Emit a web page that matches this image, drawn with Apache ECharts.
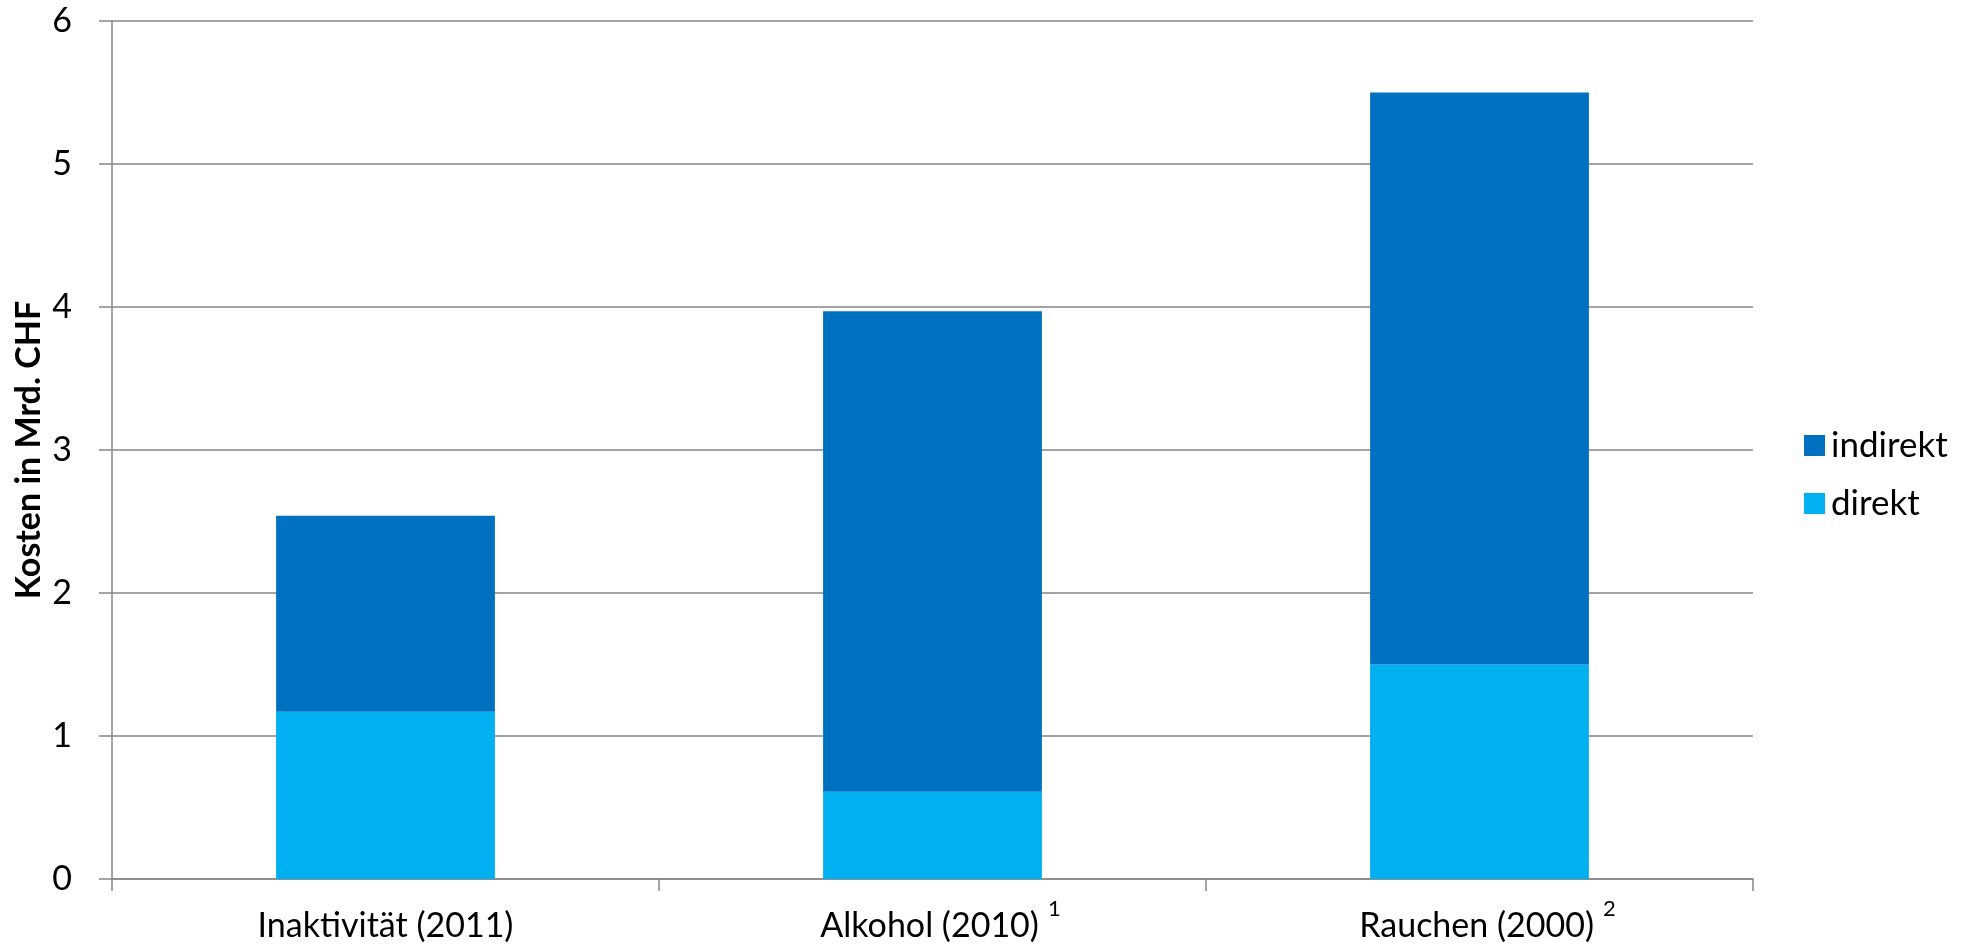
<!DOCTYPE html>
<html>
<head>
<meta charset="utf-8">
<script src="https://cdn.jsdelivr.net/npm/echarts@6/dist/echarts.min.js"></script>
<style>
html,body{margin:0;padding:0;background:#fff;}
#chart{width:1966px;height:947px;}
</style>
</head>
<body>
<div id="chart"></div>
<script>
const categories = ['Inaktivität (2011)', 'Alkohol (2010)', 'Rauchen (2000)'];
const footnotes = ['', '1', '2'];
const direkt = [1.17, 0.61, 1.50];
const indirekt = [1.37, 3.36, 4.00];
const yTicks = [0, 1, 2, 3, 4, 5, 6];

const FONT = 'Lato';
const chart = echarts.init(document.getElementById('chart'), null, {renderer: 'canvas'});
chart.setOption({
  animation: false,
  backgroundColor: '#ffffff',
  textStyle: {fontFamily: FONT, color: '#000'},
  grid: {left: 112, right: 213, top: 21, bottom: 68, containLabel: false, outerBoundsMode: 'none'},
  legend: {
    orient: 'vertical',
    left: 1799,
    top: 423,
    data: ['indirekt', 'direkt'],
    itemWidth: 21,
    itemHeight: 21,
    itemGap: 23,
    icon: 'rect',
    textStyle: {fontFamily: FONT, fontSize: 35, lineHeight: 32, color: '#000', padding: [0, 0, 0, 1]}
  },
  xAxis: {
    type: 'category',
    data: categories,
    axisLine: {lineStyle: {color: '#868686', width: 1.5}},
    axisTick: {show: true, length: 12, lineStyle: {color: '#868686', width: 1.5}},
    axisLabel: {
      margin: 19,
      formatter: function (v, i) {
        const fn = footnotes[i];
        return fn ? '{p|' + v + '}{s|' + fn + '}' : '{m|' + v + '}';
      },
      rich: {
        m: {fontFamily: FONT, fontSize: 34, lineHeight: 56, color: '#000'},
        p: {fontFamily: FONT, fontSize: 34, lineHeight: 56, color: '#000', padding: [0, 0, 0, 16]},
        s: {fontFamily: FONT, fontSize: 22, lineHeight: 8, color: '#000', padding: [0, 0, 34, 9]}
      }
    }
  },
  yAxis: {
    type: 'value',
    min: 0,
    max: 6,
    interval: 1,
    name: 'Kosten in Mrd. CHF',
    nameLocation: 'middle',
    nameRotate: 90,
    nameGap: 66,
    nameMoveOverlap: false,
    nameTextStyle: {fontFamily: FONT, fontSize: 34, fontWeight: 'bold', color: '#000'},
    axisLine: {show: true, lineStyle: {color: '#868686', width: 1.5}},
    axisTick: {show: true, length: 13, lineStyle: {color: '#868686', width: 1.5}},
    axisLabel: {
      margin: 40,
      fontFamily: FONT, fontSize: 34, color: '#000',
      formatter: function (v) { return yTicks.indexOf(v) >= 0 ? String(v) : ''; }
    },
    splitLine: {show: true, lineStyle: {color: '#868686', width: 1.5}}
  },
  series: [
    {name: 'direkt', type: 'bar', stack: 'k', data: direkt, barWidth: '40%', itemStyle: {color: '#00B0F0'}},
    {name: 'indirekt', type: 'bar', stack: 'k', data: indirekt, barWidth: '40%', itemStyle: {color: '#0070C0'}}
  ]
});
</script>
</body>
</html>
